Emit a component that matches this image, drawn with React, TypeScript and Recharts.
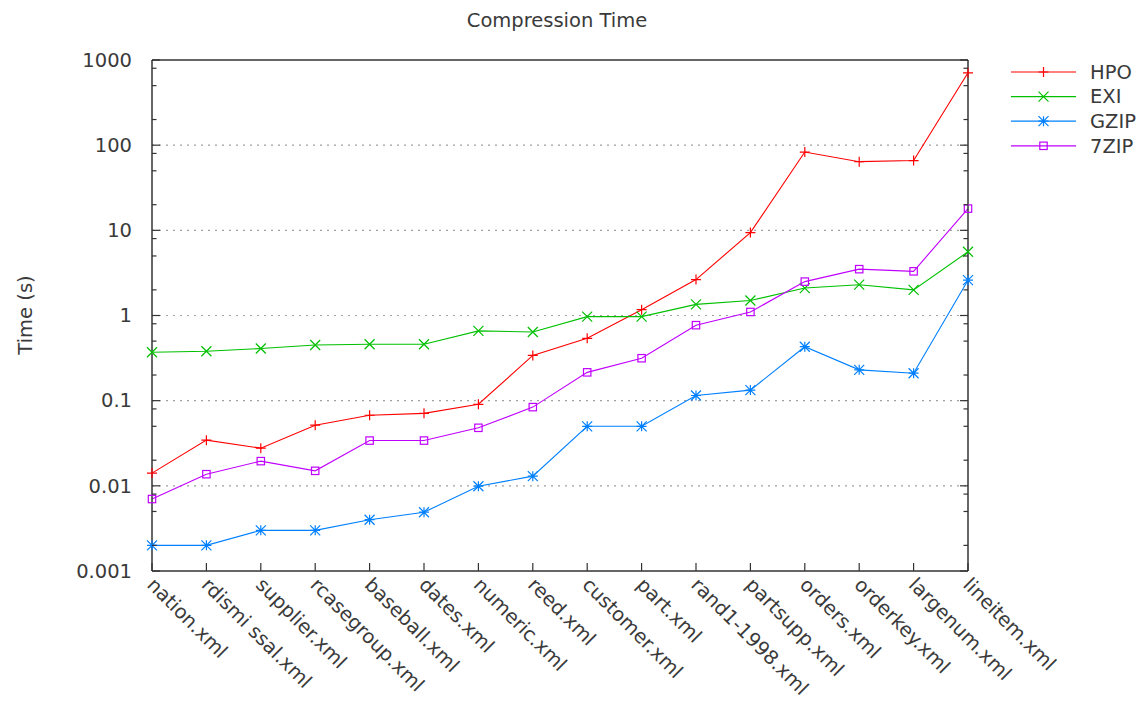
import React from 'react';
import { LineChart, Line, XAxis, YAxis, ReferenceLine } from 'recharts';

const categories = [
  'nation.xml', 'rdismissal.xml', 'supplier.xml', 'rcasegroup.xml', 'baseball.xml', 'dates.xml',
  'numeric.xml', 'reed.xml', 'customer.xml', 'part.xml', 'rand1-1998.xml', 'partsupp.xml',
  'orders.xml', 'orderkey.xml', 'largenum.xml', 'lineitem.xml',
];
const categoryLabels = [
  'nation.xml', 'rdismi ssal.xml', 'supplier.xml', 'rcasegroup.xml', 'baseball.xml', 'dates.xml',
  'numeric.xml', 'reed.xml', 'customer.xml', 'part.xml', 'rand1-1998.xml', 'partsupp.xml',
  'orders.xml', 'orderkey.xml', 'largenum.xml', 'lineitem.xml',
];
const hpo = [0.0141, 0.0344, 0.0277, 0.0515, 0.0674, 0.071, 0.0907, 0.34, 0.54, 1.17, 2.64, 9.4, 83, 64, 66, 707];
const exi = [0.37, 0.38, 0.41, 0.45, 0.46, 0.46, 0.66, 0.64, 0.97, 0.97, 1.35, 1.5, 2.1, 2.3, 2.0, 5.6];
const gzip = [0.002, 0.002, 0.003, 0.003, 0.004, 0.0049, 0.0099, 0.013, 0.05, 0.05, 0.115, 0.133, 0.43, 0.23, 0.21, 2.6];
const zip7 = [0.007, 0.0137, 0.0195, 0.015, 0.034, 0.034, 0.048, 0.084, 0.215, 0.315, 0.77, 1.1, 2.5, 3.5, 3.3, 18];

const majorTicks = [0.001, 0.01, 0.1, 1, 10, 100, 1000];
const majorLabels = ['0.001', '0.01', '0.1', '1', '10', '100', '1000'];
const minorMultipliers = [2, 5, 8];
const gridValues = [0.01, 0.1, 1, 10, 100];

const seriesNames = ['HPO', 'EXI', 'GZIP', '7ZIP'];
const seriesColors = ['#ff0000', '#00c000', '#0080ff', '#c000ff'];
const seriesKeys = ['hpo', 'exi', 'gzip', 'zip7'];
const markerKinds = ['plus', 'cross', 'star', 'square'];

const data = categories.map((c, i) => ({
  name: c,
  label: categoryLabels[i],
  hpo: hpo[i],
  exi: exi[i],
  gzip: gzip[i],
  zip7: zip7[i],
}));

const allTicks: number[] = [];
majorTicks.forEach((t, i) => {
  allTicks.push(t);
  if (i < majorTicks.length - 1) minorMultipliers.forEach((m) => allTicks.push(+(t * m).toPrecision(3)));
});

const FONT = '"DejaVu Sans", sans-serif';
const TEXT = '#3a3a3a';
const AXIS = '#333333';
const FS = 19.5;

function Marker({ kind, cx, cy, color }: any) {
  if (cx == null || cy == null) return null;
  const s = 5;
  if (kind === 'plus')
    return <path d={`M${cx - s},${cy}H${cx + s}M${cx},${cy - s}V${cy + s}`} stroke={color} strokeWidth={1.2} fill="none" />;
  if (kind === 'cross')
    return <path d={`M${cx - s},${cy - s}L${cx + s},${cy + s}M${cx - s},${cy + s}L${cx + s},${cy - s}`} stroke={color} strokeWidth={1.2} fill="none" />;
  if (kind === 'star')
    return (
      <path
        d={`M${cx - s},${cy}H${cx + s}M${cx},${cy - s}V${cy + s}M${cx - s},${cy - s}L${cx + s},${cy + s}M${cx - s},${cy + s}L${cx + s},${cy - s}`}
        stroke={color}
        strokeWidth={1.2}
        fill="none"
      />
    );
  return <rect x={cx - 3.7} y={cy - 3.7} width={7.4} height={7.4} stroke={color} strokeWidth={1.2} fill="none" />;
}

function LeftTick(props: any) {
  const { x, y, payload } = props;
  const v = payload.value;
  const mi = majorTicks.findIndex((t) => Math.abs(t - v) / t < 1e-6);
  const isMajor = mi >= 0;
  return (
    <g>
      <line x1={x} y1={y} x2={x + (isMajor ? 8 : 4.5)} y2={y} stroke={AXIS} strokeWidth={1.2} />
      {isMajor && (
        <text x={x - 20} y={y} dy="0.35em" textAnchor="end" fill={TEXT} fontFamily={FONT} fontSize={FS}>
          {majorLabels[mi]}
        </text>
      )}
    </g>
  );
}

function RightTick(props: any) {
  const { x, y, payload } = props;
  const v = payload.value;
  const isMajor = majorTicks.some((t) => Math.abs(t - v) / t < 1e-6);
  return <line x1={x} y1={y} x2={x - (isMajor ? 8 : 4.5)} y2={y} stroke={AXIS} strokeWidth={1.2} />;
}

function BottomTick(props: any) {
  const { x, y, index } = props;
  const tx = x - 6;
  const ty = y + 15;
  return (
    <g>
      <line x1={x} y1={y} x2={x} y2={y - 8} stroke={AXIS} strokeWidth={1.2} />
      <text
        x={tx}
        y={ty}
        textAnchor="start"
        transform={`rotate(45, ${tx}, ${ty})`}
        fill={TEXT}
        fontFamily={FONT}
        fontSize={FS}
      >
        {categoryLabels[index]}
      </text>
    </g>
  );
}

function LegendBox() {
  return (
    <svg width={145} height={110} style={{ position: 'absolute', left: 1000, top: 60, overflow: 'visible' }}>
      {seriesNames.map((n, i) => {
        const y = 12 + i * 24.6;
        return (
          <g key={n}>
            <line x1={11} y1={y} x2={76} y2={y} stroke={seriesColors[i]} strokeWidth={1.2} />
            <Marker kind={markerKinds[i]} cx={43.5} cy={y} color={seriesColors[i]} />
            <text x={90} y={y} dy="0.35em" fill={TEXT} fontFamily={FONT} fontSize={FS}>
              {n}
            </text>
          </g>
        );
      })}
    </svg>
  );
}

export default function App() {
  return (
    <div style={{ position: 'absolute', left: 0, top: 0, width: 1145, height: 701, background: '#fff' }}>
      <LineChart width={1145} height={701} data={data} margin={{ top: 60, right: 0, bottom: 0, left: 0 }}>
        <XAxis
          dataKey="name"
          xAxisId="b"
          height={130}
          interval={0}
          tickSize={0}
          tickMargin={0}
          tickLine={false}
          axisLine={{ stroke: AXIS, strokeWidth: 1.5 }}
          tick={<BottomTick />}
        />
        <YAxis
          yAxisId="l"
          scale="log"
          domain={[0.001, 1000]}
          allowDataOverflow
          ticks={allTicks}
          interval={0}
          width={152}
          tickSize={0}
          tickMargin={0}
          tickLine={false}
          axisLine={{ stroke: AXIS, strokeWidth: 1.5 }}
          tick={<LeftTick />}
        />
        <YAxis
          yAxisId="r"
          orientation="right"
          scale="log"
          domain={[0.001, 1000]}
          allowDataOverflow
          ticks={allTicks}
          interval={0}
          width={177}
          tickSize={0}
          tickMargin={0}
          tickLine={false}
          axisLine={{ stroke: AXIS, strokeWidth: 1.5 }}
          tick={<RightTick />}
        />
        {gridValues.map((g) => (
          <ReferenceLine key={g} y={g} xAxisId="b" yAxisId="l" stroke="#a0a0a0" strokeDasharray="2 5" strokeWidth={1.2} />
        ))}
        <ReferenceLine y={1000} xAxisId="b" yAxisId="l" stroke={AXIS} strokeWidth={1.5} />
        {seriesKeys.map((k, i) => (
          <Line
            key={k}
            xAxisId="b"
            yAxisId="l"
            dataKey={k}
            name={seriesNames[i]}
            type="linear"
            stroke={seriesColors[i]}
            strokeWidth={1.1}
            isAnimationActive={false}
            dot={(p: any) => <Marker key={`${k}-${p.index}`} kind={markerKinds[i]} cx={p.cx} cy={p.cy} color={seriesColors[i]} />}
            activeDot={false}
          />
        ))}
      </LineChart>
      <div
        style={{
          position: 'absolute',
          left: 0,
          width: 1114,
          top: 9,
          textAlign: 'center',
          fontFamily: FONT,
          fontSize: FS,
          color: TEXT,
        }}
      >
        Compression Time
      </div>
      <div
        style={{
          position: 'absolute',
          left: 25,
          top: 315,
          transform: 'translate(-50%, -50%) rotate(-90deg)',
          fontFamily: FONT,
          fontSize: FS,
          color: TEXT,
          whiteSpace: 'nowrap',
        }}
      >
        Time (s)
      </div>
      <LegendBox />
    </div>
  );
}
